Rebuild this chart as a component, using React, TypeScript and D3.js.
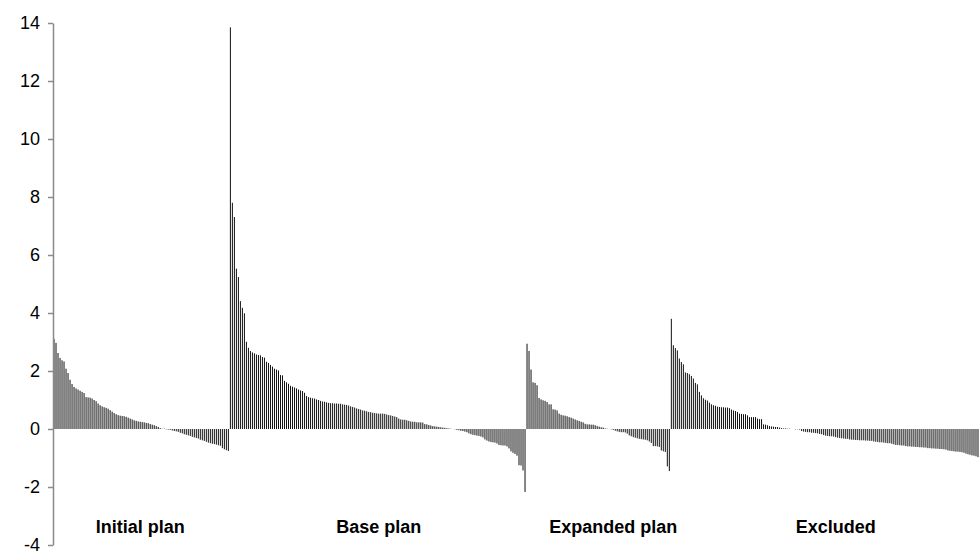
import { useEffect, useRef } from "react";
import * as d3 from "d3";

// values per plan, sorted high -> low
const initialPlan = [
  3.11, 2.97, 2.62, 2.45, 2.37, 2.33, 2.08, 1.93, 1.7, 1.55,
  1.45, 1.4, 1.36, 1.32, 1.28, 1.24, 1.1, 1.09, 1.08, 1.05,
  1.0, 0.96, 0.88, 0.82, 0.78, 0.75, 0.73, 0.7, 0.65, 0.6,
  0.55, 0.51, 0.48, 0.46, 0.45, 0.44, 0.42, 0.39, 0.36, 0.33,
  0.3, 0.28, 0.26, 0.25, 0.24, 0.23, 0.21, 0.2, 0.17, 0.15,
  0.13, 0.1, 0.07, 0.03, 0.01, 0.01, -0.01, -0.02, -0.03, -0.05,
  -0.07, -0.08, -0.1, -0.13, -0.15, -0.18, -0.2, -0.22, -0.24, -0.27,
  -0.29, -0.31, -0.33, -0.37, -0.39, -0.41, -0.44, -0.47, -0.49, -0.51,
  -0.52, -0.54, -0.56, -0.58, -0.66, -0.7, -0.73, -0.76,
];

const basePlan = [
  13.85, 7.8, 7.31, 5.53, 5.24, 4.41, 4.18, 3.99, 3.01, 2.8,
  2.69, 2.64, 2.61, 2.57, 2.55, 2.54, 2.48, 2.46, 2.32, 2.28,
  2.21, 2.15, 2.08, 2.05, 2.02, 1.86, 1.85, 1.66, 1.61, 1.56,
  1.49, 1.46, 1.43, 1.4, 1.36, 1.33, 1.31, 1.25, 1.14, 1.1,
  1.08, 1.06, 1.05, 1.02, 1.0, 0.97, 0.95, 0.94, 0.92, 0.9,
  0.89, 0.89, 0.88, 0.88, 0.87, 0.87, 0.85, 0.84, 0.83, 0.81,
  0.78, 0.76, 0.74, 0.71, 0.69, 0.67, 0.64, 0.63, 0.61, 0.59,
  0.58, 0.56, 0.55, 0.54, 0.53, 0.53, 0.53, 0.52, 0.5, 0.48,
  0.47, 0.45, 0.43, 0.41, 0.36, 0.33, 0.32, 0.32, 0.3, 0.28,
  0.26, 0.25, 0.25, 0.23, 0.23, 0.23, 0.22, 0.17, 0.16, 0.14,
  0.12, 0.1, 0.09, 0.08, 0.07, 0.06, 0.05, 0.04, 0.03, 0.02,
  0.01, 0.0, -0.01, -0.03, -0.04, -0.06, -0.07, -0.09, -0.11, -0.15,
  -0.18, -0.2, -0.21, -0.23, -0.24, -0.26, -0.29, -0.36, -0.4, -0.43,
  -0.45, -0.46, -0.47, -0.5, -0.55, -0.56, -0.57, -0.57, -0.6, -0.67,
  -0.77, -0.82, -0.86, -0.92, -1.25, -1.26, -1.43, -2.17,
];

const expandedPlan = [
  2.94, 2.69, 2.05, 1.61, 1.59, 1.51, 1.07, 1.02, 0.99, 0.97,
  0.93, 0.85, 0.85, 0.68, 0.67, 0.64, 0.53, 0.49, 0.47, 0.46,
  0.44, 0.41, 0.39, 0.36, 0.33, 0.3, 0.28, 0.25, 0.23, 0.18,
  0.16, 0.16, 0.15, 0.15, 0.13, 0.1, 0.08, 0.06, 0.05, 0.02,
  0.01, 0.0, -0.01, -0.03, -0.06, -0.08, -0.1, -0.11, -0.11, -0.12,
  -0.16, -0.22, -0.25, -0.28, -0.3, -0.32, -0.34, -0.35, -0.36, -0.37,
  -0.39, -0.43, -0.48, -0.59, -0.59, -0.6, -0.62, -0.74, -0.77, -0.79,
  -1.29, -1.45,
];

const excluded = [
  3.8, 2.89, 2.79, 2.71, 2.43, 2.31, 2.23, 1.95, 1.93, 1.89,
  1.83, 1.74, 1.59, 1.54, 1.28, 1.16, 1.06, 1.01, 0.98, 0.91,
  0.85, 0.82, 0.8, 0.77, 0.76, 0.75, 0.75, 0.74, 0.74, 0.72,
  0.67, 0.64, 0.62, 0.59, 0.53, 0.52, 0.51, 0.51, 0.47, 0.41,
  0.41, 0.41, 0.41, 0.36, 0.34, 0.34, 0.16, 0.15, 0.13, 0.1,
  0.09, 0.08, 0.07, 0.07, 0.05, 0.03, 0.02, 0.02, 0.01, 0.01,
  0.0, 0.0, -0.01, -0.01, -0.02, -0.07, -0.09, -0.1, -0.11, -0.11,
  -0.13, -0.13, -0.14, -0.15, -0.17, -0.18, -0.21, -0.23, -0.24, -0.25,
  -0.25, -0.26, -0.28, -0.3, -0.31, -0.32, -0.33, -0.34, -0.34, -0.36,
  -0.37, -0.37, -0.38, -0.38, -0.39, -0.39, -0.39, -0.4, -0.4, -0.41,
  -0.41, -0.43, -0.44, -0.45, -0.46, -0.46, -0.47, -0.48, -0.49, -0.49,
  -0.51, -0.53, -0.55, -0.55, -0.56, -0.57, -0.57, -0.59, -0.6, -0.6,
  -0.61, -0.61, -0.62, -0.62, -0.63, -0.63, -0.64, -0.64, -0.66, -0.66,
  -0.67, -0.67, -0.68, -0.68, -0.69, -0.69, -0.7, -0.71, -0.74, -0.75,
  -0.76, -0.77, -0.78, -0.78, -0.79, -0.8, -0.82, -0.85, -0.87, -0.89,
  -0.91, -0.92, -0.94, -0.97,
];

const groupNames = ["Initial plan", "Base plan", "Expanded plan", "Excluded"];
// bar index each group label is centred on
const labelAt = [43, 162, 279, 390];
const yTicks = [-4, -2, 0, 2, 4, 6, 8, 10, 12, 14];

const width = 979;
const height = 551;
const margin = { top: 23, right: 0, bottom: 6, left: 53 };
const font = "'Liberation Sans', Arial, sans-serif";

export default function App() {
  const svgRef = useRef<SVGSVGElement>(null);

  useEffect(() => {
    const svg = d3.select(svgRef.current);
    svg.selectAll("*").remove();

    const values = [...initialPlan, ...basePlan, ...expandedPlan, ...excluded];

    const x = d3
      .scaleBand<number>()
      .domain(d3.range(values.length))
      .range([margin.left, width - margin.right])
      .paddingInner(0.5)
      .paddingOuter(0.25);

    const y = d3
      .scaleLinear()
      .domain([-4, 14])
      .range([height - margin.bottom, margin.top]);

    // bars
    svg.append("g")
      .selectAll("rect")
      .data(values)
      .join("rect")
      .attr("x", (_, i) => x(i)!)
      .attr("width", x.bandwidth())
      .attr("y", (d) => y(Math.max(0, d)))
      .attr("height", (d) => Math.abs(y(d) - y(0)))
      .attr("fill", "#111");

    // y axis, plain hyphen for negatives like the original
    const yAxis = d3
      .axisLeft(y)
      .tickValues(yTicks)
      .tickSize(5)
      .tickSizeOuter(0)
      .tickPadding(8)
      .tickFormat((d) => String(d));

    const ga = svg.append("g")
      .attr("transform", `translate(${margin.left},0)`)
      .call(yAxis);
    ga.select(".domain").attr("stroke", "#8a8a8a").attr("stroke-width", 1.5);
    ga.selectAll(".tick line").attr("stroke", "#8a8a8a").attr("stroke-width", 1.5);
    ga.selectAll(".tick text")
      .attr("fill", "#000")
      .style("font-family", font)
      .style("font-size", "18px");

    // group names under the bars
    svg.append("g")
      .selectAll("text")
      .data(groupNames)
      .join("text")
      .attr("x", (_, i) => x(labelAt[i])! + x.bandwidth() / 2)
      .attr("y", y(-3.6))
      .attr("text-anchor", "middle")
      .style("font-family", font)
      .style("font-size", "18px")
      .style("font-weight", "bold")
      .attr("fill", "#000")
      .text((d) => d);
  }, []);

  return (
    <svg
      ref={svgRef}
      width={width}
      height={height}
      style={{ position: "absolute", left: 0, top: 0, background: "#fff" }}
    />
  );
}
